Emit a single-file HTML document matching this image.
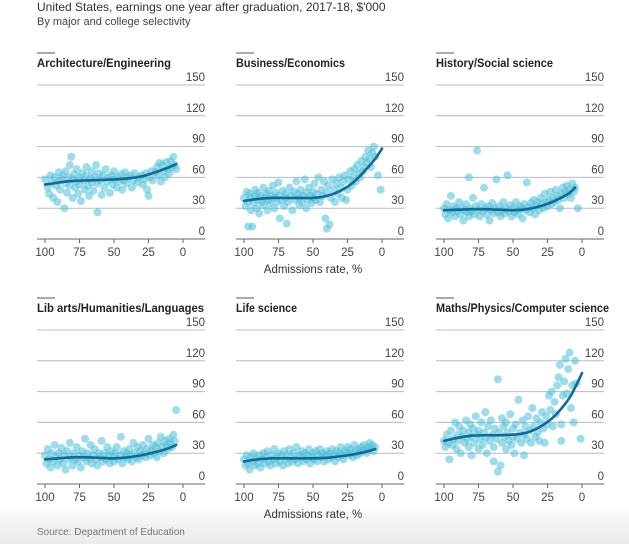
<!DOCTYPE html>
<html><head><meta charset="utf-8">
<style>
body{margin:0;width:629px;height:544px;overflow:hidden;background:#fff;font-family:"Liberation Sans",sans-serif;}
#wrap{position:relative;width:629px;height:544px;background:linear-gradient(#fff 0,#fff 505px,#efefef 530px,#ececec 544px);}
.t{position:absolute;left:37px;font-size:12px;color:#333;}
</style></head>
<body>
<div id="wrap">
<div class="t" style="top:0px;">United States, earnings one year after graduation, 2017-18, $'000</div>
<div class="t" style="top:16px;font-size:11px;color:#444;">By major and college selectivity</div>
<div class="t" style="top:527px;font-size:10px;color:#777;">Source: Department of Education</div>
<svg id="svg" width="629" height="544" style="position:absolute;left:0;top:0"></svg>
</div>
<script>
const titles=["Architecture/Engineering","Business/Economics","History/Social science","Lib arts/Humanities/Languages","Life science","Maths/Physics/Computer science"];
const yTicks=[0,30,60,90,120,150];
const xTicks=[100,75,50,25,0];
const curveX=[100,90,80,70,60,50,40,30,20,10,5,0];
const curveArch=[53,55,56.5,57,57.5,58,59,61,65,70,73,null];
const curveBus=[37,39,40,40,40,40,42,47,56,70,78,88];
const curveHist=[28,28.5,29,29,28.5,28,29,32,37,44,50,null];
const curveLib=[24,25,26,26,25.5,25,26,28,31,35,38,null];
const curveLife=[22,24,25,25,25,25,25.5,27,29,32,34,null];
const curveMath=[42,45,47,47.5,47.5,48,50,56,66,82,94,108];
const ptsArch=[[100,58],[98,50],[97,44],[96,62],[95,55],[94,40],[93,60],[92,52],[91,36],[90,65],[90,56],[89,48],[88,58],[87,62],[86,30],[85,54],[85,66],[84,45],[83,60],[82,72],[82,52],[81,80],[80,58],[80,40],[79,63],[78,50],[77,68],[77,56],[76,44],[75,60],[75,53],[74,37],[73,64],[72,57],[71,48],[70,62],[70,70],[69,52],[68,42],[67,59],[66,66],[66,55],[65,47],[64,60],[63,72],[62,26],[62,54],[61,64],[60,57],[59,43],[58,62],[57,50],[56,68],[55,56],[54,60],[53,45],[52,62],[51,53],[50,66],[50,58],[48,50],[47,60],[46,56],[45,63],[44,48],[43,57],[42,65],[41,54],[40,60],[38,62],[37,50],[36,57],[35,64],[33,55],[32,60],[30,62],[29,53],[28,58],[27,64],[26,48],[25,42],[24,60],[23,66],[22,57],[20,65],[19,70],[18,62],[17,74],[16,56],[15,72],[14,66],[13,60],[12,75],[11,68],[10,64],[9,76],[8,70],[7,80],[6,72],[5,68]];
const ptsBus=[[100,40],[99,32],[98,46],[97,12],[97,36],[96,44],[95,28],[95,40],[94,12],[93,35],[92,48],[92,42],[91,30],[90,38],[90,45],[89,25],[88,42],[87,36],[86,50],[86,33],[85,40],[84,44],[83,28],[82,38],[82,47],[81,35],[80,42],[79,52],[78,30],[78,40],[77,45],[76,36],[75,55],[75,42],[74,20],[73,38],[72,47],[71,32],[70,44],[70,40],[69,15],[68,36],[67,50],[66,42],[65,28],[64,46],[63,38],[62,56],[61,44],[60,33],[60,40],[59,48],[58,36],[57,42],[56,58],[55,30],[55,45],[54,38],[53,50],[52,42],[51,35],[50,46],[50,40],[49,54],[48,38],[47,44],[46,60],[45,36],[44,48],[43,42],[42,56],[41,20],[40,45],[40,10],[39,52],[38,14],[37,40],[36,58],[35,48],[34,36],[33,54],[32,44],[31,60],[30,50],[29,40],[28,56],[27,62],[26,38],[25,48],[24,58],[23,66],[22,52],[21,60],[20,68],[19,56],[18,72],[17,64],[16,60],[15,76],[14,66],[13,70],[12,80],[11,74],[10,86],[9,78],[8,70],[7,84],[6,90],[5,80],[3,62],[1,48]];
const ptsHist=[[100,30],[99,24],[98,34],[97,20],[96,28],[95,42],[94,26],[93,32],[92,22],[91,30],[90,27],[89,36],[88,24],[87,30],[86,18],[85,28],[84,34],[83,26],[82,60],[82,22],[81,30],[80,27],[79,40],[78,24],[77,32],[76,86],[75,28],[74,22],[73,34],[72,27],[71,50],[70,30],[69,24],[68,32],[67,18],[66,28],[65,35],[64,25],[63,30],[62,58],[61,26],[60,32],[59,22],[58,28],[57,36],[56,25],[55,30],[54,62],[53,27],[52,33],[51,22],[50,30],[49,26],[48,36],[47,28],[46,24],[45,32],[44,30],[43,20],[42,34],[41,28],[40,55],[39,31],[38,26],[37,35],[36,30],[35,38],[34,24],[33,32],[32,36],[31,28],[30,40],[29,34],[28,30],[27,44],[26,36],[25,32],[24,38],[23,46],[22,34],[21,40],[20,36],[19,48],[18,42],[17,38],[16,30],[15,44],[14,50],[13,40],[12,46],[11,52],[10,44],[9,48],[8,40],[7,54],[6,46],[5,50],[3,30]];
const ptsLib=[[100,28],[99,20],[98,34],[97,24],[96,16],[95,30],[94,22],[93,38],[92,26],[91,18],[90,30],[89,24],[88,35],[87,20],[86,28],[85,14],[84,32],[83,24],[82,40],[81,26],[80,18],[79,30],[78,24],[77,36],[76,22],[75,28],[74,16],[73,32],[72,26],[71,44],[70,22],[69,30],[68,25],[67,38],[66,20],[65,28],[64,34],[63,24],[62,18],[61,30],[60,26],[59,42],[58,22],[57,30],[56,24],[55,36],[54,28],[53,20],[52,32],[51,26],[50,22],[49,30],[48,36],[47,24],[46,28],[45,46],[44,20],[43,32],[42,26],[41,30],[40,24],[39,34],[38,28],[37,22],[36,40],[35,30],[34,26],[33,36],[32,24],[31,32],[30,28],[29,38],[28,30],[27,26],[26,34],[25,44],[24,28],[23,32],[22,38],[21,30],[20,36],[19,26],[18,40],[17,32],[16,46],[15,36],[14,30],[13,42],[12,38],[11,34],[10,44],[9,40],[8,36],[7,48],[6,42],[5,72]];
const ptsLife=[[100,24],[99,18],[98,28],[97,20],[96,14],[95,26],[94,22],[93,30],[92,18],[91,25],[90,20],[89,28],[88,16],[87,24],[86,30],[85,20],[84,26],[83,32],[82,22],[81,18],[80,28],[79,24],[78,34],[77,20],[76,26],[75,30],[74,22],[73,28],[72,18],[71,32],[70,24],[69,28],[68,20],[67,34],[66,26],[65,22],[64,30],[63,24],[62,36],[61,20],[60,28],[59,26],[58,32],[57,22],[56,30],[55,24],[54,28],[53,34],[52,20],[51,26],[50,30],[49,24],[48,32],[47,22],[46,28],[45,34],[44,26],[43,30],[42,22],[41,28],[40,32],[39,24],[38,30],[37,26],[36,34],[35,28],[34,22],[33,32],[32,26],[31,30],[30,36],[29,28],[28,24],[27,32],[26,30],[25,36],[24,28],[23,34],[22,30],[21,26],[20,38],[19,32],[18,28],[17,34],[16,30],[15,36],[14,32],[13,38],[12,34],[11,30],[10,36],[9,40],[8,34],[7,38],[6,32],[5,36]];
const ptsMath=[[100,42],[99,36],[98,48],[97,40],[96,24],[95,52],[94,38],[93,44],[92,60],[91,34],[90,48],[90,42],[89,56],[88,30],[87,46],[86,52],[85,40],[84,62],[83,44],[82,36],[82,50],[81,58],[80,28],[80,46],[79,54],[78,40],[77,66],[76,48],[75,34],[75,52],[74,44],[73,60],[72,38],[71,50],[70,70],[70,45],[69,30],[68,56],[67,42],[66,62],[65,48],[64,22],[64,36],[63,54],[62,44],[61,102],[61,12],[60,50],[59,18],[58,40],[58,64],[57,56],[56,46],[55,34],[55,60],[54,50],[53,42],[52,68],[51,38],[50,54],[50,46],[49,30],[48,58],[47,44],[46,82],[45,50],[44,40],[43,62],[42,28],[42,48],[41,56],[40,44],[39,66],[38,52],[37,40],[36,74],[35,56],[34,46],[33,64],[32,50],[31,42],[30,60],[29,70],[28,54],[27,40],[26,66],[25,58],[24,86],[23,72],[22,90],[21,56],[20,80],[19,68],[18,96],[17,104],[16,116],[15,58],[15,42],[14,86],[13,100],[12,122],[11,88],[10,112],[9,128],[8,74],[7,96],[6,60],[5,120],[4,98],[1,44]];
const panels=[[ptsArch,curveArch],[ptsBus,curveBus],[ptsHist,curveHist],[ptsLib,curveLib],[ptsLife,curveLife],[ptsMath,curveMath]];
const titleW=[134,109,117,167,61,173];
const svg=document.getElementById('svg');
const NS='http://www.w3.org/2000/svg';
function mk(t,a){const e=document.createElementNS(NS,t);for(const k in a)e.setAttribute(k,a[k]);svg.appendChild(e);return e;}
panels.forEach((p,i)=>{
  const px=[37,236,436][i%3], y0=[239,484][Math.floor(i/3)];
  const xs=v=>px+8+(100-v)*1.38;
  const ys=v=>y0-v*1.027;
  let e=mk('line',{x1:px,x2:px+18,y1:y0-186,y2:y0-186,stroke:'#555','stroke-width':1});
  
  
  e=mk('text',{x:px,y:y0-172,'font-size':11.5,'font-weight':'bold',fill:'#222',textLength:titleW[i],lengthAdjust:'spacingAndGlyphs'});e.textContent=titles[i];
  
  
  yTicks.forEach(t=>{
    e=mk('line',{x1:px,x2:px+168,y1:ys(t),y2:ys(t),stroke:t===0?'#666':'#b5bcc2','stroke-width':1});
    
    
    e=mk('text',{x:px+168,y:ys(t)-4,'font-size':11.5,fill:'#444','text-anchor':'end'});e.textContent=t;
    
    
  });
  xTicks.forEach(t=>{
    e=mk('line',{x1:xs(t),x2:xs(t),y1:y0,y2:y0+4,stroke:'#666'});
    
    
    e=mk('text',{x:xs(t),y:y0+17,'font-size':11.5,fill:'#444','text-anchor':'middle'});e.textContent=t;
    
    
  });
  p[0].forEach(d=>{
    e=mk('circle',{cx:xs(d[0]),cy:ys(d[1]),r:4,fill:'#4fc0d8','fill-opacity':0.55});
    
    
  });
  const pts=curveX.map((x,k)=>p[1][k]==null?null:[xs(x),ys(p[1][k])]).filter(Boolean);
  let d='M'+pts[0][0]+','+pts[0][1];
  for(let k=0;k<pts.length-1;k++){
    const p0=pts[k-1]||pts[k],p1=pts[k],p2=pts[k+1],p3=pts[k+2]||p2;
    d+=' C'+(p1[0]+(p2[0]-p0[0])/6)+','+(p1[1]+(p2[1]-p0[1])/6)+' '+(p2[0]-(p3[0]-p1[0])/6)+','+(p2[1]-(p3[1]-p1[1])/6)+' '+p2[0]+','+p2[1];
  }
  e=mk('path',{d:d,fill:'none',stroke:'#106a94','stroke-width':2.6,'stroke-linecap':'round'});
  
  
  if(i===1||i===4){
    e=mk('text',{x:xs(50),y:y0+34,'font-size':11.5,fill:'#333','text-anchor':'middle'});e.textContent='Admissions rate, %';
    
    
  }
});
</script>
</body></html>
